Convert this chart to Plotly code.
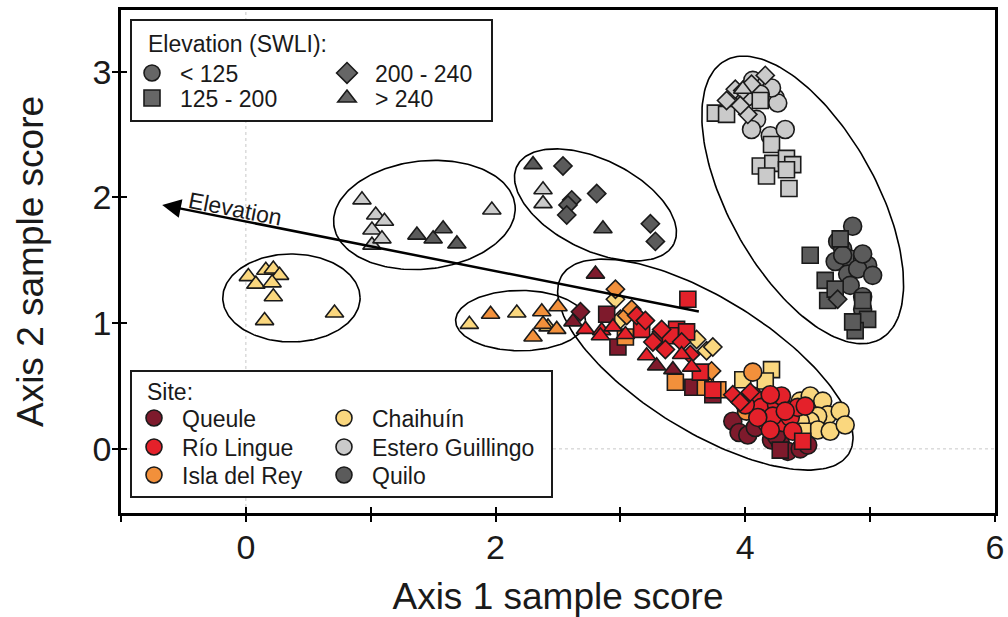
import numpy as np
import plotly.graph_objects as go

# ---------------- data ----------------
sites = ["Queule", "Río Lingue", "Isla del Rey", "Chaihuín", "Estero Guillingo", "Quilo"]
site_colors = ["#7E1A2C", "#E4212A", "#F2903B", "#FAD77E", "#CACACA", "#5B5B5B"]
elev_classes = ["< 125", "125 - 200", "200 - 240", "> 240"]
elev_symbols = ["circle", "square", "diamond", "triangle-up"]

# Queule
queule_c_x = [3.90, 3.95, 4.02, 4.08, 4.21, 4.28, 4.34, 4.44, 4.50, 4.25]
queule_c_y = [0.22, 0.13, 0.11, 0.17, 0.07, 0.05, -0.02, 0.00, 0.03, 0.10]
queule_s_x = [2.89, 2.98, 3.58, 3.74, 4.28]
queule_s_y = [1.07, 0.81, 0.49, 0.43, -0.01]
queule_d_x = [2.68]
queule_d_y = [1.09]
queule_t_x = [2.80, 2.62, 3.29, 3.42]
queule_t_y = [1.39, 1.01, 0.66, 0.63]

# Río Lingue
lingue_c_x = [4.06, 4.13, 4.17, 4.25, 4.29, 4.30, 4.36, 4.42, 4.48, 4.22, 4.38, 4.10, 4.20, 4.00, 4.20, 4.32]
lingue_c_y = [0.42, 0.33, 0.21, 0.35, 0.42, 0.21, 0.25, 0.33, 0.34, 0.26, 0.14, 0.25, 0.43, 0.35, 0.15, 0.30]
lingue_s_x = [3.54, 3.17, 3.45, 3.53, 3.64, 3.74, 4.46, 3.32, 3.40]
lingue_s_y = [1.19, 0.95, 0.95, 0.93, 0.61, 0.47, 0.06, 0.87, 0.90]
lingue_d_x = [3.13, 3.33, 3.26, 3.36, 3.49, 3.56, 3.90, 4.04, 3.96, 3.20]
lingue_d_y = [1.06, 0.95, 0.85, 0.79, 0.85, 0.75, 0.43, 0.45, 0.37, 1.02]
lingue_t_x = [2.72, 2.85, 2.94, 3.21, 3.49, 3.57, 3.04, 2.84]
lingue_t_y = [0.95, 0.94, 0.97, 0.74, 0.75, 0.65, 0.91, 0.90]

# Isla del Rey
rey_c_x = [4.06, 4.01]
rey_c_y = [0.61, 0.30]
rey_s_x = [3.04, 3.44, 3.68, 3.78]
rey_s_y = [0.89, 0.53, 0.49, 0.47]
rey_d_x = [2.96, 3.05, 3.09, 3.73]
rey_d_y = [1.27, 1.06, 1.11, 0.62]
rey_t_x = [1.96, 2.37, 2.50, 2.38, 2.49, 2.30]
rey_t_y = [1.07, 1.09, 1.13, 0.99, 0.95, 0.89]

# Chaihuín
chai_c_x = [4.44, 4.52, 4.62, 4.66, 4.58, 4.52, 4.58, 4.68, 4.44, 4.76, 4.80, 4.38]
chai_c_y = [0.38, 0.42, 0.38, 0.27, 0.26, 0.22, 0.15, 0.14, 0.22, 0.30, 0.19, 0.31]
chai_s_x = [3.98, 4.21, 4.16, 4.46]
chai_s_y = [0.55, 0.63, 0.54, 0.14]
chai_d_x = [2.96, 3.00, 3.61, 3.69, 3.74]
chai_d_y = [1.19, 1.03, 0.87, 0.78, 0.81]
chai_t_x = [0.02, 0.08, 0.16, 0.22, 0.27, 0.21, 0.22, 0.15, 0.71, 1.79, 2.17, 2.42]
chai_t_y = [1.37, 1.31, 1.42, 1.43, 1.38, 1.32, 1.21, 1.02, 1.08, 0.99, 1.08, 0.97]

# Estero Guillingo
guill_c_x = [4.06, 4.16, 4.24, 4.26, 4.09, 4.05, 4.20, 4.32, 4.21, 4.12, 4.00]
guill_c_y = [2.93, 2.89, 2.79, 2.75, 2.62, 2.54, 2.49, 2.54, 2.87, 2.82, 2.79]
guill_s_x = [3.76, 3.85, 4.12, 4.21, 4.12, 4.22, 4.33, 4.38, 4.17, 4.33, 4.35]
guill_s_y = [2.67, 2.66, 2.77, 2.42, 2.25, 2.27, 2.31, 2.26, 2.17, 2.22, 2.07]
guill_d_x = [3.85, 3.92, 3.98, 4.16, 4.02, 3.96, 4.05]
guill_d_y = [2.77, 2.86, 2.85, 2.97, 2.66, 2.73, 2.90]
guill_t_x = [3.98, 0.93, 1.04, 1.11, 1.01, 1.01, 1.09, 1.97, 2.38, 2.38]
guill_t_y = [2.86, 1.98, 1.86, 1.81, 1.74, 1.62, 1.67, 1.90, 2.06, 1.95]

# Quilo
quilo_c_x = [4.86, 4.74, 4.78, 4.72, 4.84, 4.94, 4.98, 4.82, 4.90, 5.02, 4.84, 4.94, 4.94, 4.78, 4.94]
quilo_c_y = [1.77, 1.65, 1.59, 1.49, 1.51, 1.51, 1.46, 1.39, 1.43, 1.38, 1.30, 1.21, 1.11, 1.54, 1.55]
quilo_s_x = [4.52, 4.64, 4.66, 4.98, 4.88, 4.86, 4.76, 4.94, 4.72]
quilo_s_y = [1.54, 1.34, 1.18, 1.03, 0.94, 1.01, 1.67, 1.18, 1.27]
quilo_d_x = [4.74, 2.54, 2.81, 2.61, 2.58, 2.57, 3.24, 3.28]
quilo_d_y = [1.19, 2.25, 2.03, 1.98, 1.94, 1.86, 1.79, 1.65]
quilo_t_x = [1.37, 1.50, 1.58, 1.69, 2.30, 2.86]
quilo_t_y = [1.70, 1.67, 1.75, 1.63, 2.26, 1.75]

# Group ellipses: centre, semi-axes, rotation (deg)
ell_cx = [0.365, 1.43, 2.80, 2.20, 3.68, 4.46]
ell_cy = [1.20, 1.86, 1.94, 1.02, 0.67, 1.98]
ell_a = [0.55, 0.73, 0.70, 0.52, 1.35, 1.27]
ell_b = [0.35, 0.43, 0.36, 0.24, 0.53, 0.59]
ell_ang = [0, 6, -26, 0, -31.6, -60.6]

# Elevation vector (head, tail)
arrow_head = (-0.67, 1.94)
arrow_tail = (3.64, 1.09)

x_ticks = [-1, 0, 1, 2, 3, 4, 5, 6]
x_ticktext = ["", "0", "", "2", "", "4", "", "6"]
y_ticks = [0, 1, 2, 3]
y_ticktext = ["0", "1", "2", "3"]

# ---------------------------------------------------------------
FONT = "Liberation Sans, Arial, sans-serif"
TXT = "#1a1a1a"
sym_sizes = {"circle": 18, "square": 16, "diamond": 14, "triangle-up": 16}
OUTLINE = "#1a1a1a"

site_data = {
    "Queule": [(queule_c_x, queule_c_y), (queule_s_x, queule_s_y), (queule_d_x, queule_d_y), (queule_t_x, queule_t_y)],
    "Río Lingue": [(lingue_c_x, lingue_c_y), (lingue_s_x, lingue_s_y), (lingue_d_x, lingue_d_y), (lingue_t_x, lingue_t_y)],
    "Isla del Rey": [(rey_c_x, rey_c_y), (rey_s_x, rey_s_y), (rey_d_x, rey_d_y), (rey_t_x, rey_t_y)],
    "Chaihuín": [(chai_c_x, chai_c_y), (chai_s_x, chai_s_y), (chai_d_x, chai_d_y), (chai_t_x, chai_t_y)],
    "Estero Guillingo": [(guill_c_x, guill_c_y), (guill_s_x, guill_s_y), (guill_d_x, guill_d_y), (guill_t_x, guill_t_y)],
    "Quilo": [(quilo_c_x, quilo_c_y), (quilo_s_x, quilo_s_y), (quilo_d_x, quilo_d_y), (quilo_t_x, quilo_t_y)],
}
color_of = dict(zip(sites, site_colors))
draw_order = ["Estero Guillingo", "Quilo", "Chaihuín", "Queule", "Isla del Rey", "Río Lingue"]

# geometry (page margin is removed in the html, so figure px == screen px)
W, H = 1008, 617
L, R, T, B = 121, 13, 10, 104
pw, ph = W - L - R, H - T - B
def px(xp):      # screen px -> paper x
    return (xp - L) / pw
def py(yp):      # screen px -> paper y
    return (H - B - yp) / ph

fig = go.Figure()

# ellipses
t = np.linspace(0, 2 * np.pi, 200)
for cx, cy, a, b, ang in zip(ell_cx, ell_cy, ell_a, ell_b, ell_ang):
    th = np.deg2rad(ang)
    ex = cx + a * np.cos(th) * np.cos(t) - b * np.sin(th) * np.sin(t)
    ey = cy + a * np.sin(th) * np.cos(t) + b * np.cos(th) * np.sin(t)
    fig.add_trace(go.Scatter(x=ex, y=ey, mode="lines", line=dict(color="black", width=1.6),
                             showlegend=False, hoverinfo="skip"))

# points
for site in draw_order:
    for (xs, ys), sym in zip(site_data[site], elev_symbols):
        if not xs:
            continue
        fig.add_trace(go.Scatter(
            x=xs, y=ys, mode="markers", showlegend=False,
            marker=dict(symbol=sym, size=sym_sizes[sym], color=color_of[site],
                        line=dict(color=OUTLINE, width=1.6))))

# legends: one legend per entry, placed on a 2-column grid
legfont = dict(family=FONT, size=23, color=TXT)
ITEMW = 46
SYM_OFF = ITEMW / 2 + 6
elev_pos = [(153, 73), (153, 98), (348, 73), (348, 98)]      # symbol centre (screen px)
site_pos = [(155, 418), (155, 447), (155, 475), (345, 418), (345, 447), (345, 475)]

legend_layouts = {}
n = 0
for lab, sym, (sx, sy) in zip(elev_classes, elev_symbols, elev_pos):
    n += 1
    key = "legend" if n == 1 else f"legend{n}"
    fig.add_trace(go.Scatter(
        x=[None], y=[None], mode="markers", name=lab, legend=key,
        marker=dict(symbol=sym, size=16, color="#666666", line=dict(color=OUTLINE, width=1.6))))
    legend_layouts[key] = dict(x=px(sx - SYM_OFF), y=py(sy))
for site, (sx, sy) in zip(sites, site_pos):
    n += 1
    key = f"legend{n}"
    fig.add_trace(go.Scatter(
        x=[None], y=[None], mode="markers", name=site, legend=key,
        marker=dict(symbol="circle", size=16, color=color_of[site], line=dict(color=OUTLINE, width=1.6))))
    legend_layouts[key] = dict(x=px(sx - SYM_OFF), y=py(sy))

for key, pos in legend_layouts.items():
    fig.update_layout({key: dict(bgcolor="rgba(0,0,0,0)", borderwidth=0, font=legfont,
                                 xanchor="left", yanchor="middle", orientation="v",
                                 itemwidth=ITEMW, x=pos["x"], y=pos["y"])})

# invisible trace on secondary axes (used for inward tick marks)
fig.add_trace(go.Scatter(x=[None], y=[None], xaxis="x2", yaxis="y2", showlegend=False, hoverinfo="skip"))

fig.update_layout(
    width=W, height=H,
    margin=dict(l=L, r=R, t=T, b=B, autoexpand=False),
    paper_bgcolor="white", plot_bgcolor="white",
    font=dict(family=FONT, color=TXT),
    xaxis=dict(range=[-1, 6], tickvals=x_ticks, ticktext=x_ticktext, automargin=False,
               showline=True, linecolor="black", linewidth=2.5, mirror=True,
               ticks="outside", ticklen=6, tickwidth=2, tickcolor="black",
               ticklabelstandoff=-4,
               showgrid=False, zeroline=False,
               tickfont=dict(family=FONT, size=34, color=TXT),
               title=dict(text="Axis 1 sample score", font=dict(family=FONT, size=37, color=TXT), standoff=19)),
    yaxis=dict(range=[-0.51, 3.49], tickvals=y_ticks, ticktext=y_ticktext, automargin=False,
               showline=True, linecolor="black", linewidth=2.5, mirror=True,
               ticks="outside", ticklen=6, tickwidth=2, tickcolor="black",
               ticklabelstandoff=-6,
               showgrid=False, zeroline=False,
               tickfont=dict(family=FONT, size=34, color=TXT),
               title=dict(text="Axis 2 sample score", font=dict(family=FONT, size=37, color=TXT), standoff=38)),
    xaxis2=dict(overlaying="x", anchor="y2", side="bottom", range=[-1, 6], tickvals=x_ticks, automargin=False,
                showticklabels=False, ticks="inside", ticklen=6, tickwidth=2, tickcolor="black",
                showline=False, showgrid=False, zeroline=False),
    yaxis2=dict(overlaying="y", anchor="x2", side="left", range=[-0.51, 3.49], tickvals=y_ticks, automargin=False,
                showticklabels=False, ticks="inside", ticklen=6, tickwidth=2, tickcolor="black",
                showline=False, showgrid=False, zeroline=False),
)

# dotted reference lines at 0
fig.add_shape(type="line", xref="x", yref="paper", x0=0, x1=0, y0=0, y1=1,
              line=dict(color="#c8c8c8", width=1, dash="dot"), layer="below")
fig.add_shape(type="line", xref="paper", yref="y", x0=0, x1=1, y0=0, y1=0,
              line=dict(color="#c8c8c8", width=1, dash="dot"), layer="below")

# legend boxes + titles
fig.add_shape(type="rect", xref="paper", yref="paper", x0=px(131), x1=px(492), y0=py(121), y1=py(20),
              line=dict(color=TXT, width=2), fillcolor="white", layer="above")
fig.add_shape(type="rect", xref="paper", yref="paper", x0=px(131), x1=px(552), y0=py(497), y1=py(371),
              line=dict(color=TXT, width=2), fillcolor="white", layer="above")
fig.add_annotation(x=px(146), y=py(44), xref="paper", yref="paper", xanchor="left", yanchor="middle",
                   text="Elevation (SWLI):", showarrow=False, font=legfont)
fig.add_annotation(x=px(145), y=py(392), xref="paper", yref="paper", xanchor="left", yanchor="middle",
                   text="Site:", showarrow=False, font=legfont)

# elevation arrow
fig.add_annotation(x=arrow_head[0], y=arrow_head[1], ax=arrow_tail[0], ay=arrow_tail[1],
                   xref="x", yref="y", axref="x", ayref="y", text="", showarrow=True,
                   arrowhead=2, arrowsize=1.5, arrowwidth=2.5, arrowcolor="black")
fig.add_annotation(x=-0.08, y=1.91, xref="x", yref="y", text="Elevation", showarrow=False,
                   textangle=11, font=dict(family=FONT, size=23, color=TXT))

fig.write_html("out.html", config={"displayModeBar": False},
               post_script="document.body.style.margin='0px';document.body.style.overflow='hidden';")
